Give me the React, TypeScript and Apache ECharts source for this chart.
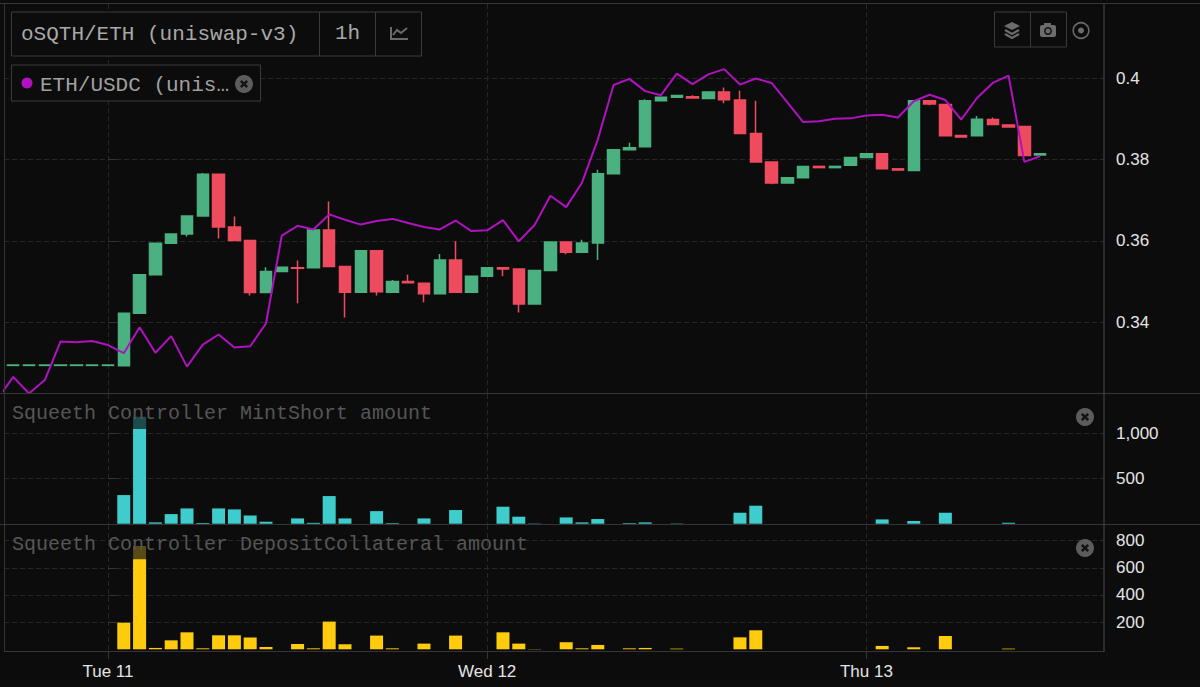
import React, { useEffect, useRef } from "react";
import * as echarts from "echarts";

const candleHours = [-6,-5,-4,-3,-2,-1,0,1,2,3,4,5,6,7,8,9,10,11,12,13,14,15,16,17,18,19,20,21,22,23,24,25,26,27,28,29,30,31,32,33,34,35,36,37,38,39,40,41,42,43,44,45,46,47,48,49,50,51,52,53,54,55,56,57,58,59];
const candleOpen = [.3294,.3294,.3294,.3294,.3294,.3294,.3294,.3293,.3422,.3517,.3594,.3617,.3661,.3764,.3634,.3601,.3473,.3525,.3534,.3534,.3627,.3537,.3474,.3576,.3474,.3500,.3496,.3470,.3553,.3474,.3513,.3534,.3531,.3445,.3527,.3597,.3572,.3595,.3765,.3824,.3831,.3944,.3953,.3954,.3950,.3966,.3946,.3864,.3794,.3742,.3755,.3783,.3780,.3786,.3805,.3814,.3777,.3773,.3944,.3935,.3859,.3858,.3898,.3885,.3881,.3811];
const candleClose = [.3295,.3295,.3295,.3295,.3295,.3295,.3295,.3422,.3517,.3594,.3617,.3661,.3764,.3634,.3601,.3473,.3525,.3535,.3533,.3627,.3537,.3474,.3576,.3475,.3500,.3497,.3470,.3553,.3474,.3513,.3534,.3531,.3445,.3527,.3597,.3572,.3595,.3765,.3824,.3829,.3944,.3953,.3957,.3951,.3966,.3947,.3864,.3794,.3742,.3755,.3783,.3780,.3783,.3805,.3814,.3777,.3774,.3944,.3936,.3858,.3855,.3899,.3886,.3880,.3810,.3814];
const candleLow = [.3294,.3294,.3294,.3294,.3294,.3294,.3294,.3293,.3422,.3517,.3594,.3611,.3661,.3606,.3601,.3466,.3473,.3525,.3447,.3534,.3537,.3412,.3474,.3466,.3474,.3497,.3449,.3470,.3474,.3474,.3513,.3513,.3424,.3445,.3527,.3567,.3572,.3553,.3765,.3824,.3831,.3944,.3953,.3951,.3950,.3938,.3864,.3794,.3739,.3742,.3755,.3780,.3780,.3786,.3805,.3777,.3774,.3773,.3933,.3858,.3855,.3858,.3886,.3880,.3810,.3811];
const candleHigh = [.3295,.3295,.3295,.3295,.3295,.3295,.3295,.3422,.3517,.3594,.3617,.3661,.3767,.3764,.3660,.3601,.3535,.3535,.3552,.3627,.3697,.3537,.3576,.3576,.3504,.3517,.3496,.3568,.3599,.3513,.3534,.3534,.3531,.3527,.3597,.3597,.3603,.3775,.3824,.3841,.3948,.3953,.3957,.3958,.3966,.3977,.3969,.3944,.3794,.3755,.3783,.3783,.3783,.3805,.3814,.3816,.3777,.3944,.3944,.3935,.3859,.3907,.3903,.3885,.3881,.3814];

const lineHours = [-7,-6,-5,-4,-3,-2,-1,0,1,2,3,4,5,6,7,8,9,10,11,12,13,14,15,16,17,18,19,20,21,22,23,24,25,26,27,28,29,30,31,32,33,34,35,36,37,38,39,40,41,42,43,44,45,46,47,48,49,50,51,52,53,54,55,56,57,58,59];
const ethUsdc = [.3211,.3266,.3225,.3258,.3353,.3351,.3354,.3344,.3324,.3388,.3325,.3366,.3291,.3345,.3370,.3338,.3341,.3397,.3613,.3637,.3628,.3665,.3652,.3640,.3649,.3654,.3644,.3634,.3628,.3650,.3624,.3626,.3651,.3599,.3639,.3711,.3683,.3743,.3849,.3983,.3998,.3968,.3958,.4011,.3985,.4009,.4022,.3984,.3999,.3988,.3940,.3892,.3894,.3900,.3901,.3908,.3910,.3903,.3943,.3959,.3946,.3898,.3951,.3988,.4006,.3794,.3808];

const barHours = [1,2,3,4,5,6,7,8,9,10,12,13,14,15,17,18,20,22,25,26,27,29,30,31,33,34,36,40,41,49,51,53,57];
const mintShort = [318,1051,15,107,170,8,170,159,92,22,59,10,307,59,140,7,59,152,189,78,3,70,15,52,7,15,3,122,200,48,30,122,11];
const depositCollateral = [196,663,10,66,125,7,103,103,86,17,39,7,204,37,101,7,42,101,125,42,2,52,7,32,7,10,5,88,140,25,15,98,5];
const capHours = [2];
const mintCap = [1188];
const depositCap = [761];

const priceTicks = [0.34, 0.36, 0.38, 0.4];
const mintTicks = [500, 1000];
const depositTicks = [200, 400, 600, 800];
const dayTicks = [0, 24, 48];
const dayLabels = ["Tue 11", "Wed 12", "Thu 13"];

const BG = "#0c0c0c";
const BORDER = "#353535";
const GRID = "#272727";
const MONO = "'Liberation Mono', monospace";
const SANS = "'Liberation Sans', Arial, sans-serif";

function closeIcon(cx: number, cy: number) {
  const d = 3.2;
  return [
    { type: "circle", z: 20, shape: { cx, cy, r: 9 }, style: { fill: "#5c5c5c" } },
    { type: "line", z: 21, shape: { x1: cx - d, y1: cy - d, x2: cx + d, y2: cy + d }, style: { stroke: "#141414", lineWidth: 2.6 } },
    { type: "line", z: 21, shape: { x1: cx + d, y1: cy - d, x2: cx - d, y2: cy + d }, style: { stroke: "#141414", lineWidth: 2.6 } },
  ];
}
function frame(x: number, y: number, width: number, height: number) {
  return { type: "rect", z: 20, shape: { x, y, width, height }, style: { fill: BG, stroke: "#3a3a3a", lineWidth: 1 } };
}
function hline(x1: number, x2: number, y: number, stroke = BORDER) {
  return { type: "line", z: 19, shape: { x1, y1: y, x2, y2: y }, style: { stroke, lineWidth: 1 } };
}
function vline(x: number, y1: number, y2: number, stroke = "#3a3a3a") {
  return { type: "line", z: 21, shape: { x1: x, y1, x2: x, y2 }, style: { stroke, lineWidth: 1 } };
}
function label(text: string, x: number, y: number, fontSize: number, fill: string) {
  return { type: "text", z: 22, x, y, style: { text, fill, fontSize, fontFamily: MONO, textVerticalAlign: "middle" } };
}

const dash = { color: GRID, type: [5, 3] };

const xAxisBase = (gridIndex: number, showLabel: boolean) => ({
  type: "value",
  gridIndex,
  min: -6.582,
  max: 63.04,
  axisLine: { onZero: false, show: false },
  axisTick: { show: showLabel, customValues: dayTicks, length: 8, lineStyle: { color: BORDER } },
  axisLabel: {
    show: showLabel,
    customValues: dayTicks,
    color: "#e4e4e4",
    fontSize: 17,
    fontFamily: SANS,
    margin: 12,
    formatter: (v: number) => dayLabels[dayTicks.indexOf(v)] ?? "",
  },
  splitLine: { show: true, lineStyle: dash },
});
const yAxisBase = (gridIndex: number, min: number, max: number, ticks: number[], fmt: (v: number) => string) => ({
  type: "value",
  gridIndex,
  position: "right",
  min,
  max,
  axisLine: { show: false },
  axisTick: { show: true, customValues: ticks, length: 8, lineStyle: { color: BORDER } },
  axisLabel: { customValues: ticks, color: "#e4e4e4", fontSize: 17, fontFamily: SANS, margin: 12, formatter: fmt },
  splitLine: { show: true, lineStyle: dash },
});

export default function App() {
  const ref = useRef<HTMLDivElement>(null);
  useEffect(() => {
    document.body.style.margin = "0";
    document.body.style.background = BG;
    const chart = echarts.init(ref.current!, undefined, { renderer: "svg" });
    chart.setOption({
      animation: false,
      backgroundColor: BG,
      grid: [
        { left: 4, width: 1100, top: 4, height: 389.5 },
        { left: 4, width: 1100, top: 394, height: 130 },
        { left: 4, width: 1100, top: 525, height: 126 },
      ],
      xAxis: [xAxisBase(0, false), xAxisBase(1, false), xAxisBase(2, true)],
      yAxis: [
        yAxisBase(0, 0.3225, 0.4182, priceTicks, (v) => String(v)),
        yAxisBase(1, -3, 1440, mintTicks, (v) => v.toLocaleString("en-US")),
        yAxisBase(2, -12.5, 915, depositTicks, (v) => String(v)),
      ],
      series: [
        {
          name: "ETH/USDC",
          type: "line",
          xAxisIndex: 0,
          yAxisIndex: 0,
          symbol: "none",
          clip: true,
          lineStyle: { color: "#b012c0", width: 2 },
          data: lineHours.map((h, i) => [h, ethUsdc[i]]),
        },
        {
          name: "oSQTH/ETH",
          type: "candlestick",
          xAxisIndex: 0,
          yAxisIndex: 0,
          barWidth: 12,
          itemStyle: { color: "#4bb180", color0: "#ef4b5f", borderColor: "#4bb180", borderColor0: "#ef4b5f", borderWidth: 1.5 },
          data: candleHours.map((h, i) => [h, candleOpen[i], candleClose[i], candleLow[i], candleHigh[i]]),
        },
        {
          name: "MintShort cap",
          type: "bar",
          barGap: "-100%",
          xAxisIndex: 1,
          yAxisIndex: 1,
          barWidth: 13,
          itemStyle: { color: "#1d4a4a" },
          data: capHours.map((h, i) => [h, mintCap[i]]),
        },
        {
          name: "MintShort",
          type: "bar",
          barGap: "-100%",
          xAxisIndex: 1,
          yAxisIndex: 1,
          barWidth: 13,
          itemStyle: { color: "#3ecccc" },
          data: barHours.map((h, i) => [h, mintShort[i]]),
        },
        {
          name: "DepositCollateral cap",
          type: "bar",
          barGap: "-100%",
          xAxisIndex: 2,
          yAxisIndex: 2,
          barWidth: 13,
          itemStyle: { color: "#584a14" },
          data: capHours.map((h, i) => [h, depositCap[i]]),
        },
        {
          name: "DepositCollateral",
          type: "bar",
          barGap: "-100%",
          xAxisIndex: 2,
          yAxisIndex: 2,
          barWidth: 13,
          itemStyle: { color: "#ffcc0d" },
          data: barHours.map((h, i) => [h, depositCollateral[i]]),
        },
      ],
      graphic: {
        elements: [
          hline(0, 1200, 3.5),
          hline(0, 1200, 393.5),
          hline(0, 1200, 524.5),
          hline(4, 1104, 651.5),
          { type: "line", z: 19, shape: { x1: 4.5, y1: 3, x2: 4.5, y2: 652 }, style: { stroke: BORDER, lineWidth: 1 } },
          { type: "line", z: 19, shape: { x1: 1104, y1: 3, x2: 1104, y2: 652 }, style: { stroke: "#4a4a4a", lineWidth: 1 } },

          frame(11.5, 12, 410, 44),
          vline(319.5, 12, 56),
          vline(375.5, 12, 56),
          label("oSQTH/ETH (uniswap-v3)", 21, 34, 21, "#a8a8a8"),
          label("1h", 335, 33, 21, "#a8a8a8"),
          { type: "polyline", z: 22, shape: { points: [[391, 27], [391, 39], [408, 39]] }, style: { stroke: "#6a6a6a", fill: "none", lineWidth: 2 } },
          { type: "polyline", z: 22, shape: { points: [[393, 35], [397, 30], [401, 33], [407, 28]] }, style: { stroke: "#6a6a6a", fill: "none", lineWidth: 2 } },

          frame(11.5, 65, 249, 36),
          { type: "circle", z: 22, shape: { cx: 27, cy: 83, r: 5.5 }, style: { fill: "#b012c0" } },
          label("ETH/USDC (unis…", 40, 85, 21, "#a0a0a0"),
          ...closeIcon(244, 84),

          frame(994.5, 12, 72, 35),
          vline(1030.5, 12, 47),
          { type: "polygon", z: 22, shape: { points: [[1012, 22], [1020, 26], [1012, 30], [1004, 26]] }, style: { fill: "#6c6c6c" } },
          { type: "polyline", z: 22, shape: { points: [[1005, 30], [1012, 34], [1019, 30]] }, style: { stroke: "#6c6c6c", fill: "none", lineWidth: 2.2 } },
          { type: "polyline", z: 22, shape: { points: [[1005, 34], [1012, 38], [1019, 34]] }, style: { stroke: "#6c6c6c", fill: "none", lineWidth: 2.2 } },
          { type: "rect", z: 22, shape: { x: 1040, y: 25, width: 16, height: 12, r: 2 }, style: { fill: "#6c6c6c" } },
          { type: "rect", z: 22, shape: { x: 1044, y: 23, width: 7, height: 3 }, style: { fill: "#6c6c6c" } },
          { type: "circle", z: 23, shape: { cx: 1048, cy: 31, r: 3.2 }, style: { fill: "#6c6c6c", stroke: BG, lineWidth: 1.4 } },
          { type: "circle", z: 22, shape: { cx: 1081, cy: 30.5, r: 7.8 }, style: { fill: "none", stroke: "#6c6c6c", lineWidth: 1.5 } },
          { type: "circle", z: 22, shape: { cx: 1081, cy: 30.5, r: 3 }, style: { fill: "#6c6c6c" } },

          label("Squeeth Controller MintShort amount", 12, 413, 20, "#565656"),
          label("Squeeth Controller DepositCollateral amount", 12, 544, 20, "#565656"),
          ...closeIcon(1085, 417),
          ...closeIcon(1085, 548),
        ],
      },
    });
    return () => chart.dispose();
  }, []);
  return <div ref={ref} style={{ width: 1200, height: 687 }} />;
}
